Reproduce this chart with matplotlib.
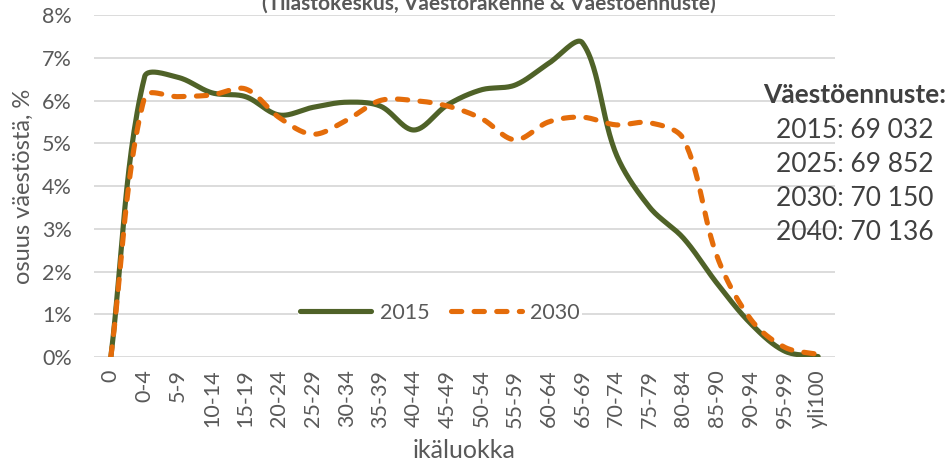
import numpy as np
import matplotlib
matplotlib.use("Agg")
import matplotlib.pyplot as plt
from matplotlib.ticker import FuncFormatter

# ikäluokat ja osuudet (%)
labels = ['0', '0-4', '5-9', '10-14', '15-19', '20-24', '25-29', '30-34', '35-39',
          '40-44', '45-49', '50-54', '55-59', '60-64', '65-69', '70-74', '75-79',
          '80-84', '85-90', '90-94', '95-99', 'yli100']
v2015 = [0, 6.55, 6.54, 6.18, 6.09, 5.66, 5.84, 5.96, 5.87, 5.31, 5.90, 6.25,
         6.36, 6.87, 7.35, 4.75, 3.50, 2.78, 1.72, 0.78, 0.14, 0.01]
v2030 = [0, 6.08, 6.09, 6.13, 6.27, 5.60, 5.21, 5.54, 6.00, 6.00, 5.87, 5.58,
         5.08, 5.50, 5.61, 5.43, 5.48, 5.10, 2.35, 0.88, 0.23, 0.06]
ennuste = [('2015', '69 032'), ('2025', '69 852'), ('2030', '70 150'), ('2040', '70 136')]

GREEN = '#4F6228'
ORANGE = '#E46C0A'
GRAY = '#595959'

plt.rcParams['font.family'] = ['Lato', 'DejaVu Sans']


def smooth(ax, ys, n=30):
    # excel-tyylinen pehmennetty viiva (bezier), lasketaan näyttökoordinaateissa
    xs = np.arange(len(ys))
    p = ax.transData.transform(np.column_stack([xs, ys]))
    m = len(p)
    tang = []
    for i in range(m):
        a = p[max(i - 1, 0)]
        b = p[min(i + 1, m - 1)]
        d = np.linalg.norm(p[i] - a) + np.linalg.norm(b - p[i])
        tang.append((b - a) / d if d > 0 else np.zeros(2))
    t = np.linspace(0, 1, n)[:, None]
    out = [p[:1]]
    for i in range(m - 1):
        L = np.linalg.norm(p[i + 1] - p[i])
        c1 = p[i] + tang[i] * L / 3
        c2 = p[i + 1] - tang[i + 1] * L / 3
        seg = ((1 - t) ** 3 * p[i] + 3 * (1 - t) ** 2 * t * c1
               + 3 * (1 - t) * t ** 2 * c2 + t ** 3 * p[i + 1])
        out.append(seg[1:])
    pts = ax.transData.inverted().transform(np.vstack(out))
    return pts[:, 0], pts[:, 1]


fig = plt.figure(figsize=(9.52, 4.65), dpi=100)
ax = fig.add_axes([94 / 952, 1 - 357 / 465, (835 - 94) / 952, (357 - 15) / 465])
ax.set_xlim(-0.5, len(labels) - 0.5)
ax.set_ylim(0, 8)

x, y = smooth(ax, v2015)
ax.plot(x, y, color=GREEN, lw=3.7, solid_capstyle='round', label='2015', zorder=3)
x, y = smooth(ax, v2030)
ax.plot(x, y, color=ORANGE, lw=3.7, linestyle=(0, (2.0, 2.4)),
        dash_capstyle='round', label='2030', zorder=4)

ax.set_yticks(range(0, 9))
ax.yaxis.set_major_formatter(FuncFormatter(lambda v, pos: f'{v:.0f}%'))
ax.set_xticks(range(len(labels)))
ax.set_xticklabels(labels, rotation=90)
ax.tick_params(axis='y', length=0, pad=16, labelsize=15.5, labelcolor=GRAY)
ax.tick_params(axis='x', length=0, pad=9, labelsize=15.5, labelcolor=GRAY)
ax.grid(axis='y', color='#D9D9D9', lw=1.3)
ax.set_axisbelow(True)
for s in ax.spines.values():
    s.set_visible(False)

ax.set_xlabel('ikäluokka', fontsize=18, color=GRAY, labelpad=8)
ax.set_ylabel('osuus väestöstä, %', fontsize=17, color=GRAY, labelpad=6)

leg = ax.legend(loc='center', bbox_to_anchor=(0.467, 0.129), ncol=2, frameon=True,
                fontsize=15.5, handlelength=3.3, columnspacing=1.0, handletextpad=0.4,
                borderpad=0.1, labelcolor=GRAY)
leg.get_frame().set_facecolor('white')
leg.get_frame().set_edgecolor('none')
leg.get_frame().set_alpha(1)

fig.text(489 / 952, 1 - 10 / 465, '(Tilastokeskus, Väestörakenne & Väestöennuste)',
         ha='center', va='baseline', fontsize=15, fontweight='bold', color=GRAY)

fig.text(855 / 952, 1 - 95 / 465, 'Väestöennuste:', ha='center', va='center',
         fontsize=19, fontweight='bold', color='#404040')
for k, (vuosi, maara) in enumerate(ennuste):
    fig.text(855 / 952, 1 - (130 + 34 * k) / 465, f'{vuosi}: {maara}',
             ha='center', va='center', fontsize=19, color='#404040')

fig.savefig('out.png', dpi=100)
